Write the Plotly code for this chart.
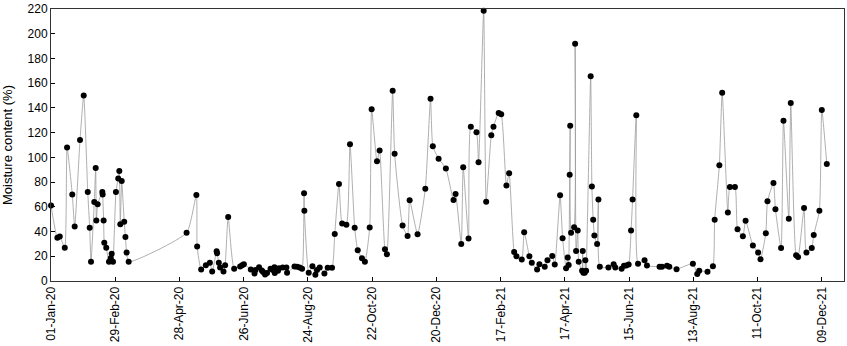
import pandas as pd
import plotly.graph_objects as go

# Sampling day (days since 01-Jan-20) and moisture content (%)
days_since_start = [
    0, 5.8, 8.0, 12.6, 14.7, 19.5, 21.7, 26.6, 30.0, 33.7, 35.5, 36.7, 39.7, 41.0, 41.6, 42.8,
    47.1, 47.4, 48.3, 48.9, 50.7, 53.2, 54.8, 55.7, 56.9, 59.6, 61.7, 62.7, 63.6, 64.9, 67.2,
    68.3, 69.4, 71.3, 124.5, 133.5,
    134.2, 137.9, 142.2, 145.9, 148.0, 152.1, 152.5, 154.1, 155.3, 158.4, 159.9, 162.7, 168.2,
    173.7, 175.5, 177.1, 183.5, 186.9, 187.8, 191.1, 193.6, 194.8, 196.6, 198.4, 201.6, 203.7,
    205.2, 205.5, 208.5, 209.4, 212.8, 216.2, 216.8, 223.6, 226.0, 228.4, 230.6, 232.4, 232.7,
    236.7, 240.1, 242.8, 244.3, 246.8, 251.1, 254.1, 258.1, 260.6, 264.5, 267.4, 271.3, 274.6,
    278.9, 281.7, 285.6, 288.3, 292.7, 294.5, 299.4, 301.8, 306.7, 308.5, 313.8, 315.6, 322.9,
    327.5, 329.4, 336.7, 343.8, 348.6, 350.7, 356.0, 362.7, 369.7, 371.6, 376.8, 378.6, 383.5,
    385.6, 390.8, 392.7, 397.4, 399.7, 404.4, 406.4, 411.2, 413.5, 418.3, 420.8, 425.4, 427.5,
    432.4, 434.6, 439.4, 441.6, 446.5, 448.6, 453.5, 456.0, 460.4, 462.7, 467.6, 469.9, 473.1,
    474.6, 475.5, 476.4, 476.9, 477.7, 480.5, 481.4, 482.3, 483.8, 484.7, 487.8, 488.4, 489.0,
    490.2, 490.8, 491.5, 495.7, 496.8, 498.0, 499.1, 501.6, 502.8, 504.1, 512.0, 516.8, 518.3,
    524.1, 526.3, 528.4, 530.6, 532.8, 534.2, 537.6, 539.2, 545.2, 547.4, 559.0, 561.2, 565.8,
    567.9, 574.6, 589.6, 593.6, 595.4, 603.0, 608.0, 609.6, 613.9, 616.5, 621.7, 623.6, 628.2,
    630.6, 635.5, 638.0, 644.7, 649.5, 651.7, 656.6, 658.1, 663.6, 665.4, 670.6, 672.8, 677.7,
    679.5, 684.4, 686.2, 691.7, 693.9, 698.8, 700.6, 705.8, 708.0, 712.6,
]
moisture = [
    61, 35, 36, 27, 108, 70, 44, 114, 150, 72, 43, 15.5, 64, 91.5, 49, 62,
    72, 70, 49, 31, 27, 15.5, 18.5, 22, 15.5, 72, 83, 89, 46, 81, 48,
    35.5, 23, 15.5, 39, 69.6,
    28, 9.3, 12.8, 14.7, 7.7, 24, 22.5, 14.7, 11, 7.7, 12.8, 51.7, 10,
    11.7, 12.8, 13.6, 9.3, 6, 8.8, 11.2, 8.5, 7.2, 5.3, 6.4, 10, 8.8,
    11.2, 6.4, 8.3, 10.4, 11, 11, 6.6, 11.7, 11.5, 11, 10, 71, 56.8,
    6.6, 12, 5, 8.8, 11, 6, 10.7, 10.7, 38, 78.5, 46.5, 45.6, 110.7,
    43, 24.8, 18.4, 15.5, 43.2, 139, 96.8, 105.6, 25.6, 21.6, 154, 103, 44.8,
    36.5, 65.3, 37.9, 74.7, 147.5, 109, 99, 91, 65.6, 70.4, 30, 92, 34.4,
    124.8, 120.3, 96, 218.6, 64.2, 118, 124.8, 136, 135, 77.3, 87.2, 23.5, 20,
    17.3, 39.5, 20, 14.7, 9.3, 13.6, 11.5, 16.8, 20.3, 13.3, 69.3, 34.6, 10.4,
    19, 13, 86, 125.6, 39, 43.5, 192, 24.3, 40.8, 15.5, 8.3, 24.3, 6.6,
    6.6, 16.8, 8.3, 165.6, 76.5, 49.6, 36.8, 30, 66, 11.5, 11, 13.6, 11,
    9.9, 12.3, 12.5, 13.3, 40.8, 66, 134, 14, 16.8, 12.5, 11.5, 11.5, 12.3,
    11.5, 9.6, 14, 5.6, 8.3, 7.5, 12, 49.6, 93.6, 152.3, 55.5, 76, 76,
    41.9, 36.3, 48.8, 28.8, 23, 17.6, 38.7, 64.5, 79.2, 58.1, 26.7, 129.6, 50.4,
    144, 20.8, 19.5, 59, 23, 26.7, 37.3, 56.8, 138.4, 94.7,
]

tick_labels = ["01-Jan-20", "29-Feb-20", "28-Apr-20", "26-Jun-20", "24-Aug-20", "22-Oct-20",
               "20-Dec-20", "17-Feb-21", "17-Apr-21", "15-Jun-21", "13-Aug-21", "11-Oct-21",
               "09-Dec-21"]
y_ticks = list(range(0, 221, 20))

start = pd.Timestamp("2020-01-01")
dates = [start + pd.to_timedelta(d, unit="D") for d in days_since_start]
tick_vals = [pd.to_datetime(t, format="%d-%b-%y") for t in tick_labels]

fig = go.Figure()
fig.add_trace(go.Scatter(
    x=dates, y=moisture, mode="lines+markers",
    line=dict(color="#9a9a9a", width=0.8, shape="spline", smoothing=0.5),
    marker=dict(color="black", size=6),
    cliponaxis=False, showlegend=False,
))

font_family = "Liberation Sans, Arial, sans-serif"
fig.update_layout(
    width=847, height=346,
    margin=dict(l=51, r=2, t=5, b=65),
    paper_bgcolor="white", plot_bgcolor="white",
    font=dict(family=font_family, size=12, color="black"),
)
fig.update_xaxes(
    range=[start - pd.Timedelta(days=0.05), start + pd.Timedelta(days=728.4)],
    tickvals=tick_vals, ticktext=tick_labels, tickangle=-90,
    ticks="inside", ticklen=4, tickcolor="black",
    showline=True, linecolor="#333", linewidth=1, mirror=True,
    showgrid=False, zeroline=False, tickfont=dict(size=12),
    ticklabeloverflow="allow",
)
fig.update_yaxes(
    range=[0, 220.05], tickvals=y_ticks,
    ticks="inside", ticklen=4, tickcolor="black",
    showline=True, linecolor="#333", linewidth=1, mirror=True,
    showgrid=False, zeroline=False, tickfont=dict(size=12),
    ticklabeloverflow="allow",
    title=dict(text="Moisture content (%)", font=dict(size=13), standoff=12),
)

fig.write_html(
    "out.html",
    config={"displayModeBar": False},
    post_script="document.body.style.margin='0';document.body.style.padding='0';",
)
